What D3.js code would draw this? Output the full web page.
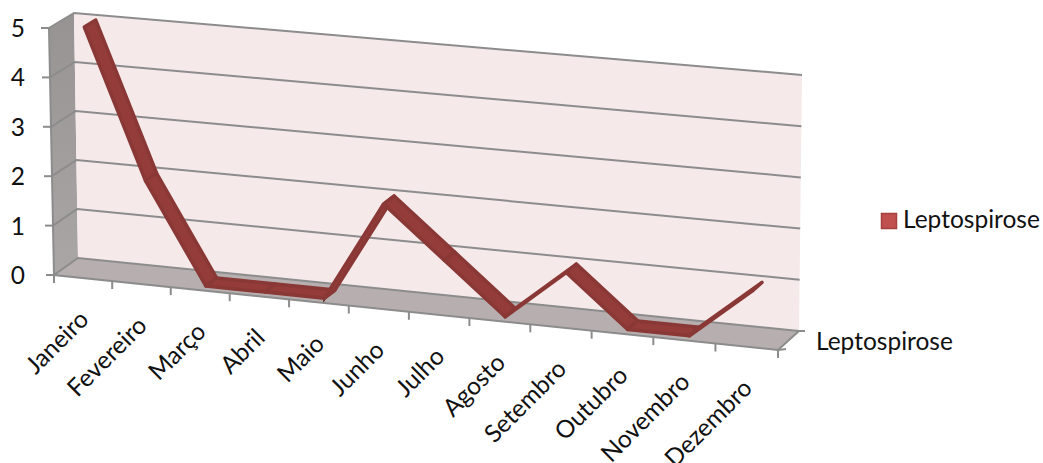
<!DOCTYPE html>
<html>
<head>
<meta charset="utf-8">
<script src="https://cdn.jsdelivr.net/npm/d3@7"></script>
<style>
    html, body { margin: 0; padding: 0; background: #fff; overflow: hidden; }
    text { font-family: Lato, "Open Sans", sans-serif; fill: #111; }
</style>
</head>
<body>
<div id="chart"></div>
<script>
const categories = ['Janeiro', 'Fevereiro', 'Março', 'Abril', 'Maio', 'Junho',
    'Julho', 'Agosto', 'Setembro', 'Outubro', 'Novembro', 'Dezembro'];
const values = [5, 2, 0, 0, 0, 2, 1, 0, 1, 0, 0, 1];
const valueTicks = [0, 1, 2, 3, 4, 5];
const seriesName = 'Leptospirose';

const width = 1043;
const height = 463;
const FONT_SIZE = 24.5;

// corners of the 3D box as they land on the page
const FRONT_LEFT = { bottom: [54, 275], top: [49, 28] };
const BACK_LEFT = { bottom: [78, 258], top: [74, 13] };
const BACK_RIGHT = { bottom: [799, 331], top: [802, 75] };
const FRONT_RIGHT = { bottom: [778, 350], top: [780, 94] };
const RIBBON_DEPTH = [0.24, 0.7];
const SIDE_DROP = 0.012;

const svg = d3.select('#chart').append('svg')
    .attr('width', width)
    .attr('height', height);

const defs = svg.append('defs');
const wallGrad = defs.append('linearGradient')
    .attr('id', 'side-wall')
    .attr('x1', 0).attr('y1', 0).attr('x2', 0).attr('y2', 1);
wallGrad.append('stop').attr('offset', '0%').attr('stop-color', '#989393');
wallGrad.append('stop').attr('offset', '100%').attr('stop-color', '#aaa6a6');

const band = d3.scaleBand().domain(categories).range([0, 1]);
const valueScale = d3.scaleLinear().domain([0, 5]).range([0, 1]);

// foreshortening along the long edge of the box
const warp = u => u / (1.04 - 0.04 * u);

function project(u, level, depth) {
    const w = warp(u);
    const corner = c => [
        c.bottom[0] + (c.top[0] - c.bottom[0]) * level,
        c.bottom[1] + (c.top[1] - c.bottom[1]) * level,
    ];
    const mix = (a, b, t) => [a[0] + (b[0] - a[0]) * t, a[1] + (b[1] - a[1]) * t];
    const front = mix(corner(FRONT_LEFT), corner(FRONT_RIGHT), w);
    const back = mix(corner(BACK_LEFT), corner(BACK_RIGHT), w);
    return mix(front, back, depth);
}

const centre = name => band(name) + band.bandwidth() / 2;
const polygon = pts => 'M' + pts.map(p => p.join(',')).join('L') + 'Z';
const GREY = '#8c8c8c';

// walls
svg.append('path')
    .attr('d', polygon([project(0, 0, 0), project(0, 1, 0), project(0, 1, 1), project(0, 0, 1)]))
    .attr('fill', 'url(#side-wall)');
svg.append('path')
    .attr('d', polygon([project(0, 0, 1), project(0, 1, 1), project(1, 1, 1), project(1, 0, 1)]))
    .attr('fill', '#f5e9ea');
svg.append('path')
    .attr('d', polygon([project(0, 0, 0), project(0, 0, 1), project(1, 0, 1), project(1, 0, 0)]))
    .attr('fill', '#b7afaf');

// gridlines run along the side wall and the back wall
const line = d3.line();
svg.append('g').selectAll('path')
    .data(valueTicks)
    .enter()
    .append('path')
    .attr('d', d => line([project(0, valueScale(d), 0), project(0, valueScale(d), 1), project(1, valueScale(d), 1)]))
    .attr('fill', 'none')
    .attr('stroke', GREY)
    .attr('stroke-width', 2);

// box edges
svg.append('path')
    .attr('d', line([project(0, 1, 0), project(0, 0, 0), project(1, 0, 0), project(1, 0, 1)]))
    .attr('fill', 'none')
    .attr('stroke', GREY)
    .attr('stroke-width', 2);

// value axis
const valueAxis = svg.append('g').selectAll('g')
    .data(valueTicks)
    .enter()
    .append('g');
valueAxis.append('line')
    .attr('x1', d => project(0, valueScale(d), 0)[0] - 8)
    .attr('x2', d => project(0, valueScale(d), 0)[0])
    .attr('y1', d => project(0, valueScale(d), 0)[1])
    .attr('y2', d => project(0, valueScale(d), 0)[1])
    .attr('stroke', GREY)
    .attr('stroke-width', 2);
valueAxis.append('text')
    .attr('x', 25)
    .attr('y', d => project(0, valueScale(d), 0)[1] + 9)
    .attr('text-anchor', 'end')
    .attr('font-size', FONT_SIZE)
    .text(d => d);

// category ticks and labels
const tickStops = d3.range(categories.length + 1).map(i => i / categories.length);
svg.append('g').selectAll('line')
    .data(tickStops)
    .enter()
    .append('line')
    .attr('x1', d => project(d, 0, 0)[0])
    .attr('x2', d => project(d, 0, 0)[0])
    .attr('y1', d => project(d, 0, 0)[1])
    .attr('y2', d => project(d, 0, 0)[1] + 8)
    .attr('stroke', GREY)
    .attr('stroke-width', 2);

svg.append('g').selectAll('text')
    .data(categories)
    .enter()
    .append('text')
    .attr('text-anchor', 'end')
    .attr('font-size', FONT_SIZE)
    .attr('transform', d => {
        const p = project(centre(d), 0, 0);
        return `translate(${p[0] + 7},${p[1] + 43}) rotate(-45)`;
    })
    .text(d => d);

// depth axis ticks and label
svg.append('line')
    .attr('x1', project(1, 0, 1)[0]).attr('x2', project(1, 0, 1)[0] + 6)
    .attr('y1', project(1, 0, 1)[1]).attr('y2', project(1, 0, 1)[1])
    .attr('stroke', GREY).attr('stroke-width', 2);
svg.append('line')
    .attr('x1', project(1, 0, 0)[0]).attr('x2', project(1, 0, 0)[0] + 8)
    .attr('y1', project(1, 0, 0)[1]).attr('y2', project(1, 0, 0)[1] - 1)
    .attr('stroke', GREY).attr('stroke-width', 2);
svg.append('text')
    .attr('x', 816)
    .attr('y', 350)
    .attr('font-size', FONT_SIZE)
    .text(seriesName);

// ribbon: a thin dark side where the line climbs steeply, then the top face
const segments = d3.pairs(categories.map((c, i) => ({ u: centre(c), level: valueScale(values[i]) })));
const ribbon = svg.append('g');
ribbon.selectAll('path.side')
    .data(segments.filter(([a, b]) => b.level - a.level > 0.3))
    .enter()
    .append('path')
    .attr('class', 'side')
    .attr('d', ([a, b]) => polygon([
        project(a.u, a.level, RIBBON_DEPTH[0]),
        project(b.u, b.level, RIBBON_DEPTH[0]),
        project(b.u, b.level - SIDE_DROP, RIBBON_DEPTH[0] - 0.04),
        project(a.u, a.level - SIDE_DROP, RIBBON_DEPTH[0] - 0.04),
    ]))
    .attr('fill', '#5a2726')
    .attr('stroke', '#5a2726')
    .attr('stroke-width', 1);
ribbon.selectAll('path.top')
    .data(segments)
    .enter()
    .append('path')
    .attr('class', 'top')
    .attr('d', ([a, b]) => polygon([
        project(a.u, a.level, RIBBON_DEPTH[0]),
        project(b.u, b.level, RIBBON_DEPTH[0]),
        project(b.u, b.level, RIBBON_DEPTH[1]),
        project(a.u, a.level, RIBBON_DEPTH[1]),
    ]))
    .attr('fill', '#933c3a')
    .attr('stroke', '#8a3836')
    .attr('stroke-width', 3.5)
    .attr('stroke-linejoin', 'round');

// legend
svg.append('rect')
    .attr('x', 881.5).attr('y', 213.5)
    .attr('width', 15).attr('height', 15)
    .attr('fill', '#c0504d')
    .attr('stroke', '#a5403e')
    .attr('stroke-width', 1.5);
svg.append('text')
    .attr('x', 903)
    .attr('y', 228)
    .attr('font-size', FONT_SIZE)
    .text(seriesName);
</script>
</body>
</html>
